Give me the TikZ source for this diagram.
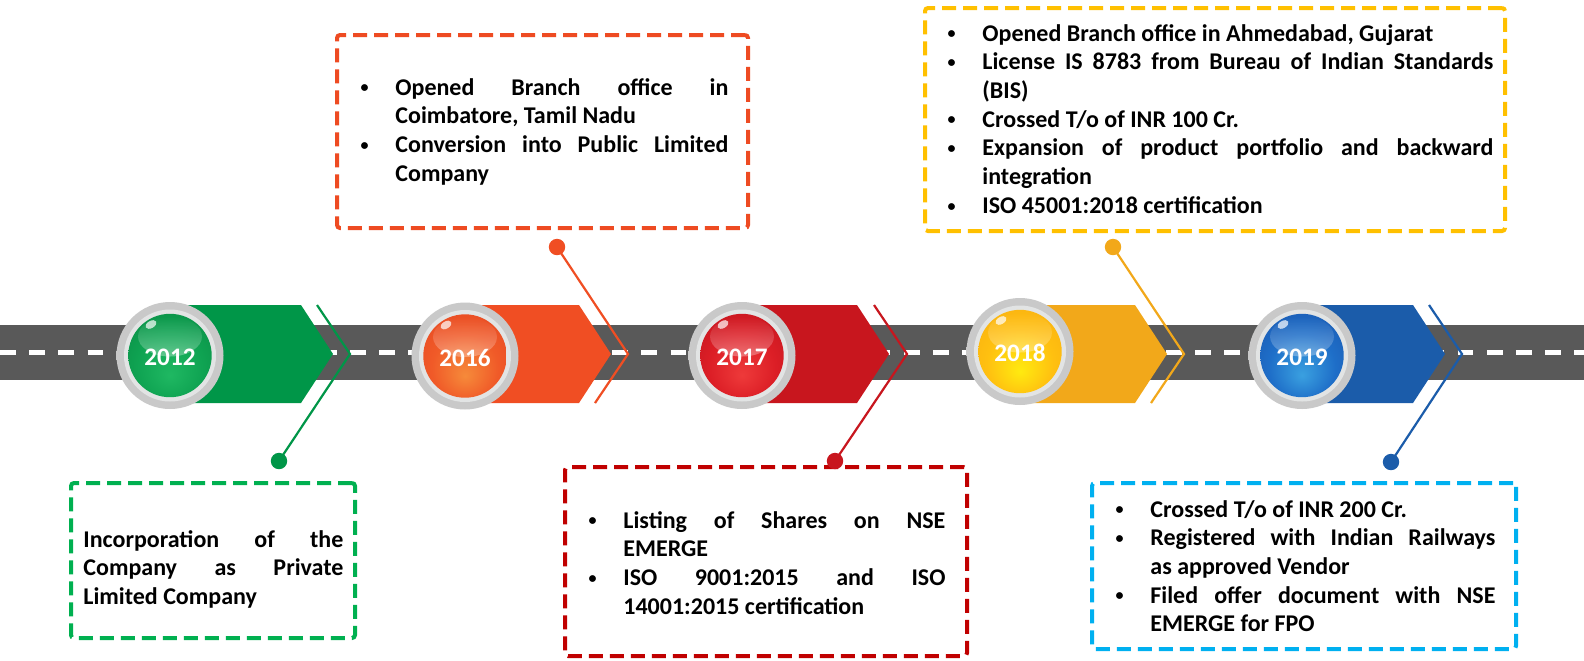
\documentclass[tikz,border=0pt]{standalone}
\usepackage{fontspec}
\setmainfont{Carlito}
\usetikzlibrary{calc,fadings}

% no hyphenation, loose justified lines allowed
\hyphenpenalty=10000
\exhyphenpenalty=10000
\tolerance=9999
\hbadness=10000

% road and ring greys
\definecolor{roadgray}{HTML}{595959}
\definecolor{ringL}{HTML}{C9C9C9}
\definecolor{ringM}{HTML}{B9B9B9}
\definecolor{ringD}{HTML}{A6A6A6}
\definecolor{ringinner}{HTML}{E2E4E4}

% milestone colours: chevron/connector, dashed box
\definecolor{gChev}{HTML}{009648}
\definecolor{gBox}{HTML}{00B050}
\definecolor{oChev}{HTML}{F04E23}
\definecolor{oBox}{HTML}{EE4B22}
\definecolor{rChev}{HTML}{C8161E}
\definecolor{rBox}{HTML}{C00000}
\definecolor{yChev}{HTML}{F2A81A}
\definecolor{yBox}{HTML}{FFC000}
\definecolor{bChev}{HTML}{1B5CAA}
\definecolor{bBox}{HTML}{00B0F0}

\definecolor{discL}{HTML}{FFFFFF}
\definecolor{discM}{HTML}{808080}
\definecolor{discD}{HTML}{000000}

\pgfdeclareradialshading{ringshade}{\pgfpoint{0bp}{0bp}}{%
  color(0bp)=(ringL); color(41bp)=(ringL); color(45bp)=(ringM); color(50bp)=(ringD)}
\pgfdeclareradialshading[discL,discM,discD]{discshade}{\pgfpoint{0bp}{-12bp}}{%
  color(0bp)=(discL); color(20bp)=(discM); color(50bp)=(discD)}

% one bulleted paragraph with hanging indent
\newcommand\smallbullet{\raisebox{1.1pt}{\fontsize{8pt}{8pt}\selectfont\textbullet}}
\newcommand\bulletitem[1]{\noindent\hangindent=18pt\hangafter=1%
  \makebox[18pt][l]{\hspace{0.6pt}\smallbullet}\ignorespaces#1\par}

% glossy year badge: #1 name, #2 centre coordinate, #3-#5 disc colours (hex), #6 year
\newcommand\yeardisc[6]{%
  \definecolor{discL}{HTML}{#3}\definecolor{discM}{HTML}{#4}\definecolor{discD}{HTML}{#5}%
  \shade[shading=ringshade] (#2) circle (26.75pt);
  \fill[ringinner] (#2) circle (23pt);
  \shade[shading=discshade] (#2) circle (20.85pt);
  \begin{scope}
    \clip (#2) circle (20.85pt);
    \fill[white, opacity=0.32, path fading=north] ($(#2)+(0,-19)$) ellipse (16pt and 10pt);
  \end{scope}
  \coordinate (#1hl) at ($(#2)+(-19,-31)$);
  \fill[white, opacity=0.7, rotate around={30:(#1hl)}] (#1hl) ellipse (3pt and 1.8pt);
  \node[yearlabel] (#1) at ($(#2)+(0,1.5)$) {#6};
}

\begin{document}
\begin{tikzpicture}[x=0.5pt, y=-0.5pt,
  yearlabel/.style={inner sep=0pt, text=white, font=\bfseries\fontsize{12.6pt}{14pt}\selectfont},
  notebox/.style={draw, line width=2pt, dash pattern=on 7pt off 3.5pt, rounded corners=1.5pt,
    inner sep=0pt, fill=none},
  note/.style={anchor=base west, inner sep=0pt, align=justify,
    font=\bfseries\fontsize{12pt}{14.35pt}\selectfont},
  link/.style={line width=1.1pt},
  dot/.style={circle, inner sep=0pt, minimum size=8.2pt, draw=none},
]
\useasboundingbox (0,0) rectangle (1584,660);
\fill[white] (0,0) rectangle (1584,660);

% road with dashed centre line
\fill[roadgray] (0,325) rectangle (1584,379.5);
\draw[white, line width=2.1pt, dash pattern=on 7.85pt off 6.725pt] (0.15,352.5) -- (1584,352.5);

% chevron bands
\fill[gChev] (170,305) -- (301,305) -- (333,354) -- (301,403) -- (170,403) -- cycle;
\fill[oChev] (465,305) -- (579,305) -- (611,354) -- (579,403) -- (465,403) -- cycle;
\fill[rChev] (742,305) -- (857,305) -- (889,354) -- (857,403) -- (742,403) -- cycle;
\fill[yChev] (1020,305) -- (1135,305) -- (1167,354) -- (1135,403) -- (1020,403) -- cycle;
\fill[bChev] (1302,305) -- (1413,305) -- (1445,354) -- (1413,403) -- (1302,403) -- cycle;

% dashed text boxes
\node[notebox, draw=gBox, minimum width=142pt, minimum height=77.5pt] (b12) at (213,560.5) {};
\node[notebox, draw=oBox, minimum width=205.5pt, minimum height=96.5pt] (b16) at (542.5,131.5) {};
\node[notebox, draw=rBox, minimum width=201pt, minimum height=94.5pt] (b17) at (766,561.5) {};
\node[notebox, draw=yBox, minimum width=290pt, minimum height=111.5pt] (b18) at (1215,119.5) {};
\node[notebox, draw=bBox, minimum width=212pt, minimum height=83pt] (b19) at (1304,566) {};

% connector bends
\coordinate (k12a) at (317,305);  \coordinate (k12t) at (350,354);
\coordinate (k16a) at (595,403);  \coordinate (k16t) at (628,354);
\coordinate (k17a) at (874,305);  \coordinate (k17t) at (907,354);
\coordinate (k18a) at (1151,403); \coordinate (k18t) at (1184,354);
\coordinate (k19a) at (1429,305); \coordinate (k19t) at (1462,354);

% end dots
\node[dot, fill=gChev] (d12) at (279,461) {};
\node[dot, fill=oChev] (d16) at (557,247) {};
\node[dot, fill=rChev] (d17) at (835,461) {};
\node[dot, fill=yChev] (d18) at (1113,247) {};
\node[dot, fill=bChev] (d19) at (1391,462) {};

% connectors
\draw[link, gChev] (k12a) -- (k12t) -- (d12.center);
\draw[link, oChev] (d16.center) -- (k16t) -- (k16a);
\draw[link, rChev] (k17a) -- (k17t) -- (d17.center);
\draw[link, yChev] (d18.center) -- (k18t) -- (k18a);
\draw[link, bChev] (k19a) -- (k19t) -- (d19.center);

% year badges
\coordinate (c12) at (170,355.5);
\coordinate (c16) at (465,356);
\coordinate (c17) at (742,355.5);
\coordinate (c18) at (1020,351.5);
\coordinate (c19) at (1302,355.5);
\yeardisc{y12}{c12}{1FB862}{0FA352}{067F3D}{2012}
\yeardisc{y16}{c16}{F68A3A}{F05A28}{E03A1E}{2016}
\yeardisc{y17}{c17}{EE3A3A}{DC1E26}{B0101A}{2017}
\yeardisc{y18}{c18}{FFEA10}{FFC010}{F5A412}{2018}
\yeardisc{y19}{c19}{3AA0E0}{1E6EC8}{1A4AA0}{2019}

% box texts
\node[note, text width=130pt] (t12) at (83,547) {%
\noindent Incorporation of the\linebreak Company as Private\linebreak Limited Company};

\node[note, text width=184.5pt] (t16) at (359,95) {%
\bulletitem{Opened Branch office in\linebreak Coimbatore, Tamil Nadu}%
\bulletitem{Conversion into Public Limited\linebreak Company}};

\node[note, text width=179pt] (t17) at (587,528) {%
\bulletitem{Listing of Shares on NSE\linebreak EMERGE}%
\bulletitem{ISO 9001:2015 and ISO\linebreak 14001:2015 certification}};

\node[note, text width=273.5pt] (t18) at (946,41) {%
\bulletitem{Opened Branch office in Ahmedabad, Gujarat}%
\bulletitem{License IS 8783 from Bureau of Indian Standards\linebreak (BIS)}%
\bulletitem{Crossed T/o of INR 100 Cr.}%
\bulletitem{Expansion of product portfolio and backward\linebreak integration}%
\bulletitem{ISO 45001:2018 certification}};

\node[note, text width=190.5pt] (t19) at (1114,517) {%
\bulletitem{Crossed T/o of INR 200 Cr.}%
\bulletitem{Registered with Indian Railways\linebreak as approved Vendor}%
\bulletitem{Filed offer document with NSE\linebreak EMERGE for FPO}};
\end{tikzpicture}
\end{document}
